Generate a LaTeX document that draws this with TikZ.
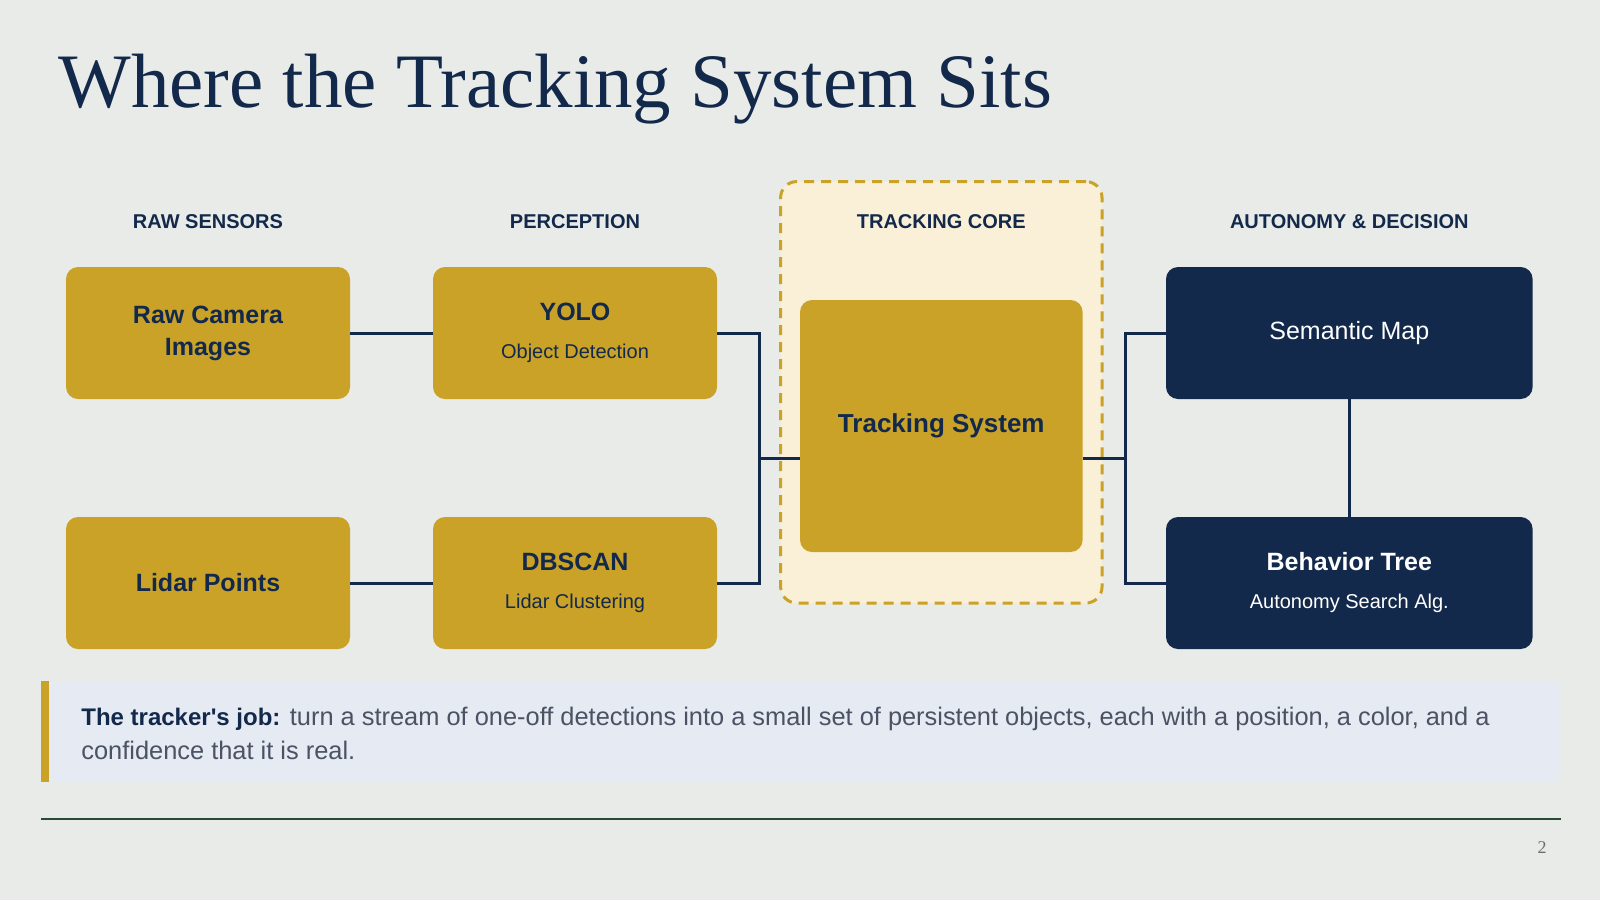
\documentclass[tikz,border=0pt]{standalone}
\usepackage{fontspec}
\setmainfont{Liberation Serif}
\setsansfont{Liberation Sans}
\usepackage{xcolor}
\usetikzlibrary{positioning}

\definecolor{slidebg}{HTML}{E9EBE8}
\definecolor{gold}{HTML}{C9A227}
\definecolor{navy}{HTML}{13294B}
\definecolor{cream}{HTML}{FAF0D7}
\definecolor{calloutbg}{HTML}{E5EAF3}
\definecolor{bodygray}{HTML}{4B5263}
\definecolor{rulegreen}{HTML}{2B4A33}
\definecolor{pagegray}{HTML}{6B6F6B}

\begin{document}
\begin{tikzpicture}[x=0.5pt, y=-0.5pt,
  goldbox/.style={rectangle, fill=gold, rounded corners=6pt, minimum width=142pt,
    minimum height=66pt, inner sep=0pt, align=center, text=navy,
    font=\sffamily\fontsize{12.5}{16}\selectfont},
  navybox/.style={goldbox, fill=navy, text=white, minimum width=183.3pt},
  colhead/.style={font=\sffamily\bfseries\fontsize{10}{12}\selectfont, text=navy},
  link/.style={draw=navy, line width=1.5pt}]

% page and margins
\useasboundingbox[fill=slidebg] (0,0) rectangle (1600,900);

\node[anchor=base west, text=navy, inner sep=0pt, font=\fontsize{38.5}{46}\selectfont] (title) at (58,107) {Where the Tracking System Sits};

% tracking core container
\node[rectangle, fill=cream, draw=gold, line width=1.5pt, dash pattern=on 5pt off 3.5pt,
  rounded corners=8pt, minimum width=160.7pt, minimum height=210.7pt] (core) at (941.3,392.3) {};

% column headings
\node[colhead] (hraw) at (208,222) {RAW SENSORS};
\node[colhead] (hperc) at (575,222) {PERCEPTION};
\node[colhead] (hcore) at (941.3,222) {TRACKING CORE};
\node[colhead] (hauto) at (1349.3,222) {AUTONOMY \& DECISION};

% stages
\node[goldbox] (raw) at (208,333) {\bfseries Raw Camera\\\bfseries Images};
\node[goldbox] (yolo) at (575,333) {\bfseries YOLO\\[3pt]{\fontsize{10}{12}\selectfont Object Detection}};
\node[goldbox] (lidar) at (208,583) {\bfseries Lidar Points};
\node[goldbox] (dbscan) at (575,583) {\bfseries DBSCAN\\[3pt]{\fontsize{10}{12}\selectfont Lidar Clustering}};
\node[goldbox, minimum width=141.3pt, minimum height=126pt, font=\sffamily\bfseries\fontsize{13}{16}\selectfont] (track) at (941.3,426) {Tracking System};
\node[navybox] (semmap) at (1349.3,333) {Semantic Map};
\node[navybox] (btree) at (1349.3,583) {\bfseries Behavior Tree\\[3pt]{\fontsize{10}{12}\selectfont Autonomy Search Alg.}};

% connectors
\draw[link] (raw.east) -- (yolo.west);
\draw[link] (lidar.east) -- (dbscan.west);
\draw[link] (yolo.east) -- ++(42,0) |- ([yshift=-16pt]track.west);
\draw[link] (dbscan.east) -- ++(42,0) |- ([yshift=-16pt]track.west);
\draw[link] ([yshift=-16pt]track.east) -- ++(42,0) |- (semmap.west);
\draw[link] ([yshift=-16pt]track.east) -- ++(42,0) |- (btree.west);
\draw[link] (semmap.south) -- (btree.north);

% callout
\fill[calloutbg] (41,681) rectangle (1559,782);
\fill[gold] (41,681) rectangle (49,782);
\node[anchor=west, align=left, inner sep=0pt, text=bodygray,
  font=\sffamily\fontsize{12.7}{17}\selectfont] (job) at (81,733)
  {\textcolor{navy}{\fontsize{12}{17}\selectfont\bfseries The tracker\textquotesingle s job:} turn a stream of one-off detections into a small set of persistent objects, each with a position, a color, and a\\confidence that it is real.};

% footer
\draw[rulegreen, line width=1pt] (41,819) -- (1561,819);
\node[text=pagegray, font=\fontsize{9}{11}\selectfont] (pagenum) at (1542,848) {2};
\end{tikzpicture}
\end{document}
